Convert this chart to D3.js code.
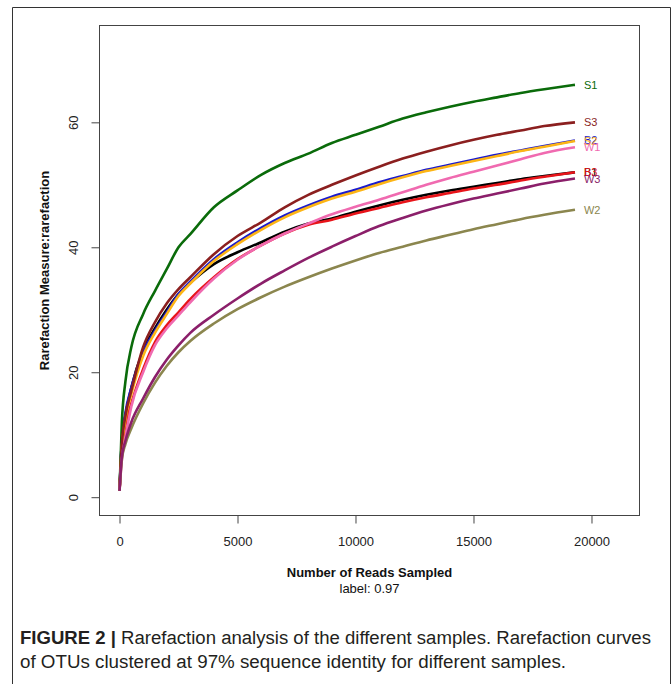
<!DOCTYPE html>
<html><head><meta charset="utf-8">
<script src="https://cdn.jsdelivr.net/npm/d3@7"></script>
<style>body{margin:0;background:#fff;} svg{display:block;}</style>
</head><body>
<svg id="chart" width="672" height="684"></svg>
<script>
const reads = [1,100,250,500,1000,1500,2000,2500,3000,4000,5000,6000,7000,8000,9000,10000,11000,12000,13000,14000,15000,16000,17000,18000,19300];
const B1 = [1,9,13,17.5,23.5,27,30,32.5,34.3,37.3,39.2,40.8,42.5,43.8,44.6,45.7,46.7,47.6,48.4,49.1,49.7,50.3,50.9,51.4,52];
const B2 = [1,9,13.5,17.5,23.2,26.6,29.6,32.5,34.5,38.1,40.8,43.1,45.1,46.7,48.1,49.2,50.4,51.4,52.4,53.2,54,54.8,55.5,56.2,57.1];
const B3 = [1,7.5,11.5,15,20.5,24.8,27.5,29.6,31.7,35.2,38.1,40.3,42.2,43.6,44.4,45.4,46.3,47.2,48,48.7,49.4,50,50.7,51.3,52];
const S1 = [1,12,18.5,24,29.3,33,36.5,40,42.1,46.4,49.1,51.6,53.5,55,56.7,58,59.3,60.6,61.6,62.5,63.3,64,64.7,65.3,66];
const S2 = [1,8,12.5,16.5,22.6,26.3,29.3,32.2,34.2,37.8,40.5,42.8,44.8,46.4,47.8,48.9,50.1,51.2,52.2,53,53.8,54.6,55.4,56.1,57];
const S3 = [1,8.5,13,17,24,28,31,33.3,35.2,38.9,41.8,44,46.4,48.4,50,51.5,52.9,54.2,55.3,56.3,57.2,58,58.7,59.4,60];
const W1 = [1,6,9.5,14.5,20,24.3,27,29.1,31.2,35,38,40.3,42.2,43.8,45.3,46.5,47.6,48.8,50,51.1,52.1,53.1,54.1,55.1,56];
const W2 = [1,6,8.5,11,15,18.3,21,23.2,25,27.8,30.1,32,33.7,35.2,36.6,37.9,39.1,40.1,41.1,42,42.9,43.7,44.5,45.2,46];
const W3 = [1,6.5,9,12,15.8,19.2,22,24.3,26.3,29.2,31.8,34.2,36.3,38.3,40.1,41.8,43.4,44.7,45.9,46.9,47.8,48.6,49.4,50.2,51];
const sampleNames = ["B1","B2","B3","S1","S2","S3","W1","W2","W3"];
const sampleValues = [B1,B2,B3,S1,S2,S3,W1,W2,W3];
const colors = ["#000000","#1a1acd","#e8141a","#0a6b0a","#fdb515","#8b1f1f","#f06ab0","#8b864e","#8b1f6a"];
const xTicks = [0,5000,10000,15000,20000];
const yTicks = [0,20,40,60];

const svg = d3.select("#chart");
const font = "'Liberation Sans', Arial, Helvetica, sans-serif";

// outer figure frame
svg.append("path").attr("d","M12.5,684 V7.5 H670.5 V684").attr("fill","none").attr("stroke","#333").attr("stroke-width",1);

const L=99.5, R=639.5, T=25.5, B=515.5;
const x = d3.scaleLinear().domain([-847.5, 22034]).range([L, R]);
const y = d3.scaleLinear().domain([-2.93, 75.5]).range([B, T]);

// box
svg.append("rect").attr("x",L).attr("y",T).attr("width",R-L).attr("height",B-T)
  .attr("fill","none").attr("stroke","#444").attr("stroke-width",1);

const xAxis = svg.append("g").attr("transform",`translate(0,${B})`)
  .call(d3.axisBottom(x).tickValues(xTicks).tickSize(8).tickPadding(13).tickFormat(d3.format("d")));
xAxis.select(".domain").remove();
xAxis.selectAll("line").attr("stroke","#444");
xAxis.selectAll("text").attr("font-family",font).attr("font-size",13).attr("fill","#222");

const yAxis = svg.append("g").attr("transform",`translate(${L},0)`)
  .call(d3.axisLeft(y).tickValues(yTicks).tickSize(8).tickFormat(d3.format("d")));
yAxis.select(".domain").remove();
yAxis.selectAll("line").attr("stroke","#444");
yAxis.selectAll("text").attr("font-family",font).attr("font-size",13).attr("fill","#222")
  .attr("text-anchor","middle").attr("x",0).attr("dy",0)
  .attr("transform","translate(-26,0) rotate(-90)").attr("dominant-baseline","central");

const line = d3.line().x((d,i)=>x(reads[i])).y(d=>y(d)).curve(d3.curveMonotoneX);
const plot = svg.append("g");
sampleValues.forEach((vals,k)=>{
  plot.append("path").datum(vals).attr("d",line).attr("fill","none")
    .attr("stroke",colors[k]).attr("stroke-width",2.6).attr("stroke-linejoin","round");
});
sampleValues.forEach((vals,k)=>{
  svg.append("text").attr("x",x(reads[reads.length-1])+9).attr("y",y(vals[vals.length-1]))
    .attr("dominant-baseline","central").attr("font-family",font).attr("font-size",11)
    .attr("fill",colors[k]).text(sampleNames[k]);
});

// axis titles
svg.append("text").attr("x",(L+R)/2).attr("y",577).attr("text-anchor","middle")
  .attr("font-family",font).attr("font-size",13).attr("font-weight","bold").attr("fill","#111")
  .text("Number of Reads Sampled");
svg.append("text").attr("x",(L+R)/2).attr("y",593).attr("text-anchor","middle")
  .attr("font-family",font).attr("font-size",13).attr("fill","#111")
  .text("label: 0.97");
svg.append("text").attr("transform",`translate(49,${(T+B)/2}) rotate(-90)`).attr("text-anchor","middle")
  .attr("font-family",font).attr("font-size",13).attr("font-weight","bold").attr("fill","#111")
  .text("Rarefaction Measure:rarefaction");

// caption
const cap = svg.append("g").attr("font-family",font).attr("font-size",18).attr("fill","#231f20");
const t1 = cap.append("text").attr("x",20).attr("y",644).attr("textLength",631).attr("lengthAdjust","spacingAndGlyphs");
t1.append("tspan").attr("font-weight","bold").text("FIGURE 2 | ");
t1.append("tspan").text("Rarefaction analysis of the different samples. Rarefaction curves");
cap.append("text").attr("x",20).attr("y",668).attr("textLength",546).attr("lengthAdjust","spacingAndGlyphs")
  .text("of OTUs clustered at 97% sequence identity for different samples.");
</script>
</body></html>
